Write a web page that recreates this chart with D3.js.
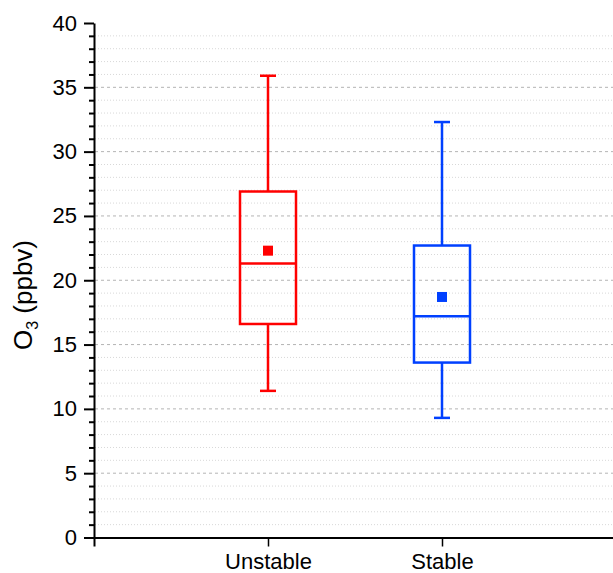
<!DOCTYPE html>
<html>
<head>
<meta charset="utf-8">
<script src="https://cdn.jsdelivr.net/npm/d3@7"></script>
<style>
  body { margin: 0; background: #fff; }
  svg { display: block; }
  text { font-family: "Liberation Sans", Arial, sans-serif; fill: #000; }
</style>
</head>
<body>
<div id="chart"></div>
<script>
// values
var categories = ["Unstable", "Stable"];
var whiskerLow = [11.4, 9.3];
var q1 = [16.6, 13.6];
var median = [21.3, 17.2];
var q3 = [26.9, 22.7];
var whiskerHigh = [35.9, 32.3];
var means = [22.3, 18.7];
var colors = ["#ff0000", "#0040ff"];
var yMajorTicks = [0, 5, 10, 15, 20, 25, 30, 35, 40];

var svgWidth = 613;
var svgHeight = 573;

var svg = d3.select("#chart")
    .append("svg")
    .attr("width", svgWidth)
    .attr("height", svgHeight);

// scales
var xScale = d3.scaleLinear()
    .domain([0, 3])
    .range([94, 616]);

var yScale = d3.scaleLinear()
    .domain([0, 40])
    .range([537.5, 23]);

var minorTicks = d3.range(0, 41).filter(function(v) { return v % 5 !== 0; });

// grid lines
var grid = svg.append("g");
grid.selectAll("line.minor")
    .data(minorTicks)
    .enter()
    .append("line")
    .attr("class", "minor")
    .attr("x1", xScale(0) + 1)
    .attr("x2", svgWidth)
    .attr("y1", d => yScale(d))
    .attr("y2", d => yScale(d))
    .style("stroke", "#d8d8d8")
    .style("stroke-width", 1)
    .style("stroke-dasharray", "1,2");

grid.selectAll("line.major")
    .data(yMajorTicks.filter(d => d > 0 && d < 40))
    .enter()
    .append("line")
    .attr("class", "major")
    .attr("x1", xScale(0) + 1)
    .attr("x2", svgWidth)
    .attr("y1", d => yScale(d))
    .attr("y2", d => yScale(d))
    .style("stroke", "#b4b4b4")
    .style("stroke-width", 1)
    .style("stroke-dasharray", "3,3");

// boxes
var boxWidth = 56;
var capWidth = 16;
var boxes = svg.append("g")
    .selectAll("g")
    .data(categories)
    .enter()
    .append("g")
    .style("stroke", (d, i) => colors[i])
    .style("stroke-width", 2.5)
    .style("fill", "none");

boxes.append("line")
    .attr("x1", (d, i) => xScale(i + 1))
    .attr("x2", (d, i) => xScale(i + 1))
    .attr("y1", (d, i) => yScale(whiskerHigh[i]))
    .attr("y2", (d, i) => yScale(q3[i]));

boxes.append("line")
    .attr("x1", (d, i) => xScale(i + 1))
    .attr("x2", (d, i) => xScale(i + 1))
    .attr("y1", (d, i) => yScale(q1[i]))
    .attr("y2", (d, i) => yScale(whiskerLow[i]));

boxes.append("line")
    .attr("x1", (d, i) => xScale(i + 1) - capWidth / 2)
    .attr("x2", (d, i) => xScale(i + 1) + capWidth / 2)
    .attr("y1", (d, i) => yScale(whiskerHigh[i]))
    .attr("y2", (d, i) => yScale(whiskerHigh[i]));

boxes.append("line")
    .attr("x1", (d, i) => xScale(i + 1) - capWidth / 2)
    .attr("x2", (d, i) => xScale(i + 1) + capWidth / 2)
    .attr("y1", (d, i) => yScale(whiskerLow[i]))
    .attr("y2", (d, i) => yScale(whiskerLow[i]));

boxes.append("rect")
    .attr("x", (d, i) => xScale(i + 1) - boxWidth / 2)
    .attr("width", boxWidth)
    .attr("y", (d, i) => yScale(q3[i]))
    .attr("height", (d, i) => yScale(q1[i]) - yScale(q3[i]));

boxes.append("line")
    .attr("x1", (d, i) => xScale(i + 1) - boxWidth / 2)
    .attr("x2", (d, i) => xScale(i + 1) + boxWidth / 2)
    .attr("y1", (d, i) => yScale(median[i]))
    .attr("y2", (d, i) => yScale(median[i]));

// mean markers
boxes.append("rect")
    .attr("x", (d, i) => xScale(i + 1) - 5)
    .attr("y", (d, i) => yScale(means[i]) - 5)
    .attr("width", 10)
    .attr("height", 10)
    .style("stroke", "none")
    .style("fill", (d, i) => colors[i]);

// y axis with major and minor ticks
var yMinorAxis = d3.axisLeft(yScale)
    .tickValues(minorTicks)
    .tickSize(5)
    .tickFormat("");

svg.append("g")
    .attr("transform", `translate(${xScale(0)}, 0)`)
    .call(yMinorAxis)
    .call(g => g.select(".domain").remove())
    .selectAll("line")
    .style("stroke", "#000")
    .style("stroke-width", 2);

var yAxis = svg.append("g")
    .attr("transform", `translate(${xScale(0)}, 0)`)
    .call(d3.axisLeft(yScale).tickValues(yMajorTicks).tickSize(10).tickSizeOuter(0).tickPadding(7));

yAxis.selectAll("line").style("stroke", "#000").style("stroke-width", 2);
yAxis.select(".domain").style("stroke", "#000").style("stroke-width", 2);
yAxis.selectAll("text")
    .style("font-size", "22px")
    .style("font-family", "'Liberation Sans', Arial, sans-serif");

// x axis
var xAxis = svg.append("g")
    .attr("transform", `translate(0, ${yScale(0)})`)
    .call(d3.axisBottom(xScale)
        .tickValues([0, 1, 2])
        .tickSize(9)
        .tickSizeOuter(0)
        .tickPadding(7)
        .tickFormat(d => d === 0 ? "" : categories[d - 1]));

xAxis.selectAll("line").style("stroke", "#000").style("stroke-width", 1.5);
xAxis.select("g.tick line").style("stroke-width", 2);
xAxis.select(".domain").style("stroke", "#000").style("stroke-width", 2);
xAxis.selectAll("text")
    .style("font-size", "22px")
    .style("font-family", "'Liberation Sans', Arial, sans-serif");

// y axis title
var yTitle = svg.append("text")
    .attr("transform", "translate(32, 295) rotate(-90)")
    .attr("text-anchor", "middle")
    .style("font-size", "26px");

yTitle.append("tspan").text("O");
yTitle.append("tspan")
    .attr("dy", 6)
    .style("font-size", "16px")
    .text("3");
yTitle.append("tspan")
    .attr("dy", -6)
    .text(" (ppbv)");
</script>
</body>
</html>
